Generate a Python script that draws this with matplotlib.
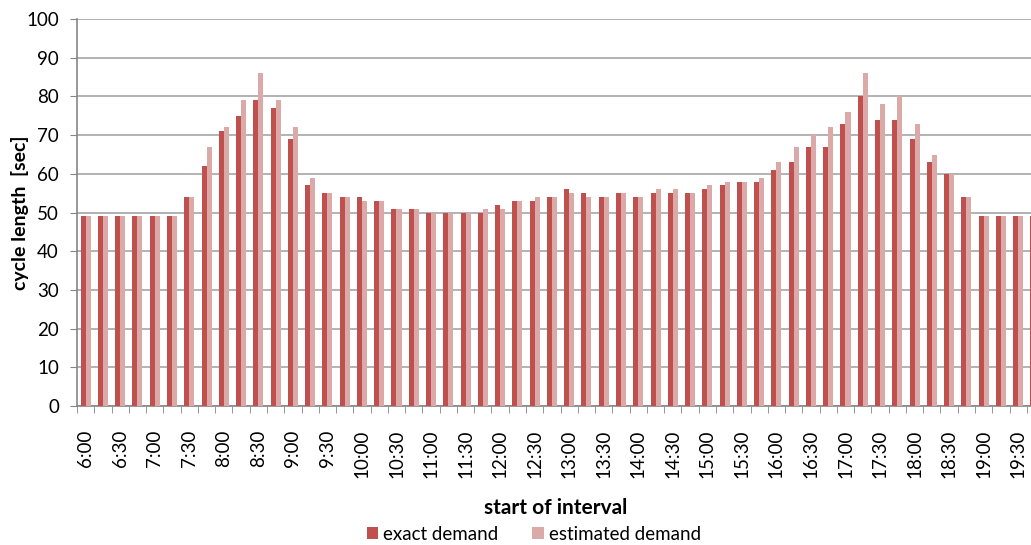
import matplotlib.pyplot as plt
import numpy as np

plt.rcParams["font.family"] = ["Lato", "DejaVu Sans"]

# cycle length per 15-minute interval, 6:00 to 19:45
exact_demand = [49, 49, 49, 49, 49, 49, 54, 62, 71, 75, 79, 77, 69, 57,
                55, 54, 54, 53, 51, 51, 50, 50, 50, 50, 52, 53, 53, 54,
                56, 55, 54, 55, 54, 55, 55, 55, 56, 57, 58, 58, 61, 63,
                67, 67, 73, 80, 74, 74, 69, 63, 60, 54, 49, 49, 49, 49]
estimated_demand = [49, 49, 49, 49, 49, 49, 54, 67, 72, 79, 86, 79, 72, 59,
                    55, 54, 53, 53, 51, 51, 50, 50, 50, 51, 51, 53, 54, 54,
                    55, 54, 54, 55, 54, 56, 56, 55, 57, 58, 58, 59, 63, 67,
                    70, 72, 76, 86, 78, 80, 73, 65, 60, 54, 49, 49, 49, 49]
half_hour_labels = ["6:00", "6:30", "7:00", "7:30", "8:00", "8:30", "9:00",
                    "9:30", "10:00", "10:30", "11:00", "11:30", "12:00",
                    "12:30", "13:00", "13:30", "14:00", "14:30", "15:00",
                    "15:30", "16:00", "16:30", "17:00", "17:30", "18:00",
                    "18:30", "19:00", "19:30"]

exact_color = "#C0504D"
est_color = "#DBA9A8"
grid_color = "#A6A6A6"
axis_color = "#868686"

fig = plt.figure(figsize=(10.31, 5.45), dpi=100)
ax = fig.add_axes([0.0747, 0.255, 0.938, 0.71])

x = np.arange(len(exact_demand))
w = 0.29
ax.bar(x - w / 2, exact_demand, w, color=exact_color, label="exact demand", zorder=3)
ax.bar(x + w / 2, estimated_demand, w, color=est_color, label="estimated demand", zorder=3)

ax.set_xlim(-0.5, len(x) - 0.5)
ax.set_ylim(0, 100)
ax.set_yticks(np.arange(0, 101, 10))
ax.yaxis.grid(True, color=grid_color, linewidth=1.2, zorder=0)
ax.set_axisbelow(True)

ax.set_xticks(x[::2])
ax.set_xticklabels(half_hour_labels, rotation=90, fontsize=13.5)
ax.set_xticks(np.arange(-0.5, len(x)), minor=True)
ax.tick_params(axis="x", which="major", length=0, pad=17)
ax.tick_params(axis="x", which="minor", length=5, color=axis_color)
ax.tick_params(axis="y", length=5, color=axis_color, labelsize=13.5, pad=8)

for side in ["top", "right"]:
    ax.spines[side].set_visible(False)
for side in ["left", "bottom"]:
    ax.spines[side].set_color(axis_color)
    ax.spines[side].set_linewidth(1.2)

ax.set_ylabel("cycle length  [sec]", fontsize=14, fontweight="bold",
              va="center")
ax.yaxis.set_label_coords(-0.059, 0.5)
fig.text(556 / 1031, 1 - 508 / 545, "start of interval", fontsize=15,
         fontweight="bold", ha="center", va="center")

fig.legend(loc="center", bbox_to_anchor=(534 / 1031, 1 - 534 / 545), ncol=2,
           frameon=False, fontsize=13.5, handlelength=0.6, handleheight=0.6,
           handletextpad=0.3, columnspacing=1.8)

fig.savefig("out.png", dpi=100)
